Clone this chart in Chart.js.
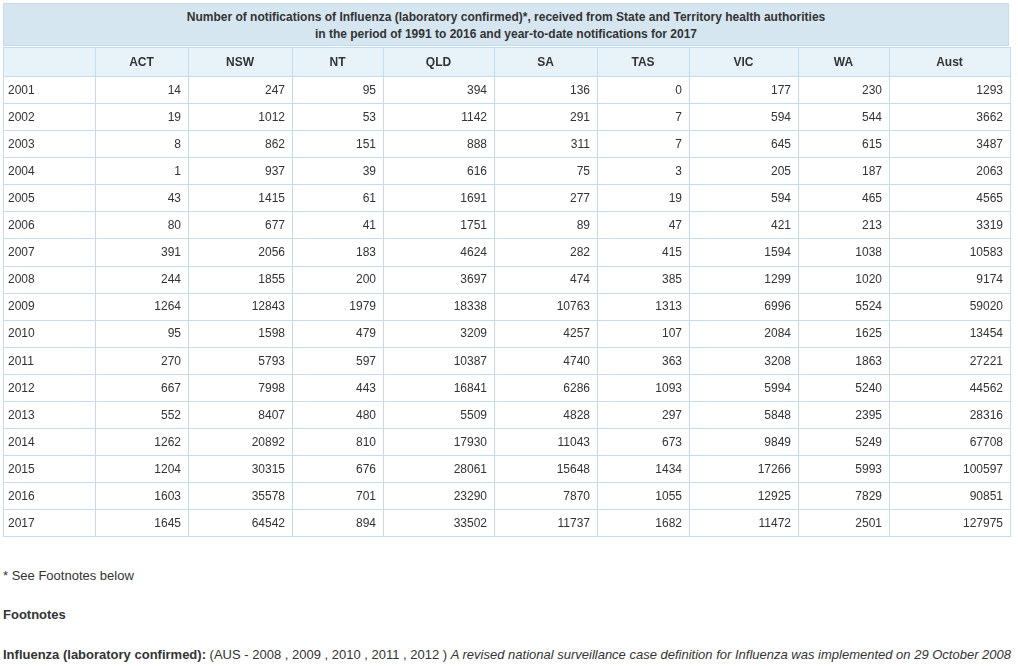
<!DOCTYPE html>
<html><head><meta charset="utf-8">
<script src="https://cdn.jsdelivr.net/npm/chart.js@4"></script>
<style>
body{margin:0;background:#fff;font-family:"Liberation Sans",Arial,sans-serif;color:#333;font-size:12px;}
#title{position:absolute;left:3px;top:3px;width:1006px;height:43px;background:#d6e6f1;border:1px solid #c6dcec;text-align:center;font-weight:bold;font-size:12px;line-height:17px;padding-top:5px;box-sizing:border-box;}
#wrap{position:absolute;left:3px;top:47px;width:1008px;height:490px;}
.t{position:absolute;left:3px;white-space:nowrap;font-size:13px;}
</style></head><body>
<div id="title">Number of notifications of Influenza (laboratory confirmed)*, received from State and Territory health authorities<br>in the period of 1991 to 2016 and year-to-date notifications for 2017</div>
<div id="wrap"><canvas id="c"></canvas></div>
<div class="t" style="top:568px">* See Footnotes below</div>
<div class="t" style="top:607px;font-weight:bold">Footnotes</div>
<div class="t" style="top:647px"><b>Influenza (laboratory confirmed):</b> (AUS - 2008 , 2009 , 2010 , 2011 , 2012 ) <i>A revised national surveillance case definition for Influenza was implemented on 29 October 2008</i></div>
<script>
const years=[2001,2002,2003,2004,2005,2006,2007,2008,2009,2010,2011,2012,2013,2014,2015,2016,2017];
const columns=['ACT','NSW','NT','QLD','SA','TAS','VIC','WA','Aust'];
const ACT=[14,19,8,1,43,80,391,244,1264,95,270,667,552,1262,1204,1603,1645];
const NSW=[247,1012,862,937,1415,677,2056,1855,12843,1598,5793,7998,8407,20892,30315,35578,64542];
const NT=[95,53,151,39,61,41,183,200,1979,479,597,443,480,810,676,701,894];
const QLD=[394,1142,888,616,1691,1751,4624,3697,18338,3209,10387,16841,5509,17930,28061,23290,33502];
const SA=[136,291,311,75,277,89,282,474,10763,4257,4740,6286,4828,11043,15648,7870,11737];
const TAS=[0,7,7,3,19,47,415,385,1313,107,363,1093,297,673,1434,1055,1682];
const VIC=[177,594,645,205,594,421,1594,1299,6996,2084,3208,5994,5848,9849,17266,12925,11472];
const WA=[230,544,615,187,465,213,1038,1020,5524,1625,1863,5240,2395,5249,5993,7829,2501];
const Aust=[1293,3662,3487,2063,4565,3319,10583,9174,59020,13454,27221,44562,28316,67708,100597,90851,127975];
const series=[ACT,NSW,NT,QLD,SA,TAS,VIC,WA,Aust];
const bounds=[0,92,185,289,380,491,594,686,795,886,1007];
const tablePlugin={id:'table',beforeDraw(ch){
 const ctx=ch.ctx,x=ch.scales.x,y=ch.scales.y;
 const X=v=>x.getPixelForValue(v), Y=v=>y.getPixelForValue(v);
 ctx.save();
 ctx.fillStyle='#e8f3f9';ctx.fillRect(X(0),Y(0),X(1007)-X(0),Y(1.07)-Y(0));
 ctx.strokeStyle='#c6dcec';ctx.lineWidth=1;
 const rows=[0,1.07];for(let i=1;i<=17;i++)rows.push(1.07+i*0.9940);
 const bottom=Math.min(Math.round(Y(rows[18]))+0.5,ch.height-0.5);
 rows.forEach((r,k)=>{const p=k===18?bottom:Math.round(Y(r))+0.5;ctx.beginPath();ctx.moveTo(X(0),p);ctx.lineTo(X(1007)+1,p);ctx.stroke();});
 bounds.forEach(b=>{const p=Math.round(X(b))+0.5;ctx.beginPath();ctx.moveTo(p,Y(0));ctx.lineTo(p,bottom);ctx.stroke();});
 ctx.fillStyle='#333';ctx.textBaseline='middle';
 ctx.font='bold 12px "Liberation Sans", Arial';ctx.textAlign='center';
 columns.forEach((c,i)=>ctx.fillText(c,(X(bounds[i+1])+X(bounds[i+2]))/2,Y(0.535)+1));
 ctx.font='12px "Liberation Sans", Arial';
 years.forEach((yr,r)=>{
  const cy=(Y(rows[r+1])+Y(rows[r+2]))/2+1;
  ctx.textAlign='left';ctx.fillText(String(yr),X(bounds[0])+5,cy);
  ctx.textAlign='right';
  series.forEach((s,i)=>ctx.fillText(String(s[r]),X(bounds[i+2])-7,cy));
 });
 ctx.restore();
}};
new Chart(document.getElementById('c'),{type:'scatter',data:{datasets:[{data:[]}]},
 options:{responsive:true,maintainAspectRatio:false,animation:false,layout:{padding:0},
  plugins:{legend:{display:false},tooltip:{enabled:false}},
  scales:{x:{type:'linear',min:0,max:1008,display:false},y:{type:'linear',min:0,max:18,reverse:true,display:false}}},
 plugins:[tablePlugin]});
</script></body></html>
